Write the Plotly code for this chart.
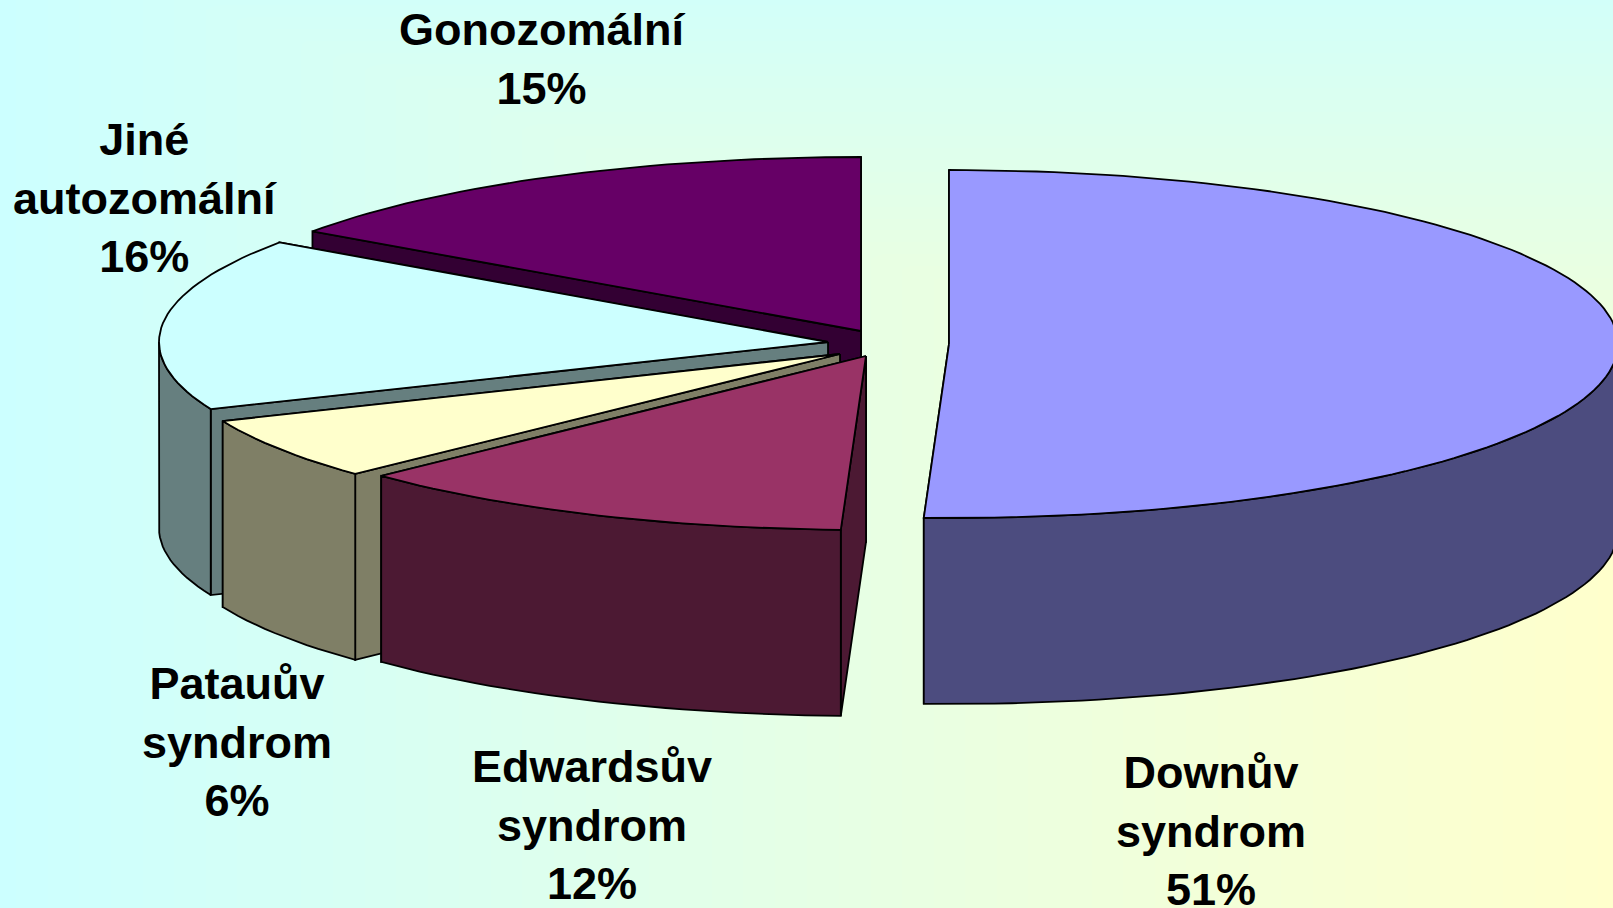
import numpy as np
import plotly.graph_objects as go

W, H = 1613, 908

# Data
categories = ["Downův syndrom", "Edwardsův syndrom", "Patauův syndrom", "Jiné autozomální", "Gonozomální"]
values = [50.6, 12.3, 5.8, 16.0, 15.3]
label_lines = ["Downův<br>syndrom", "Edwardsův<br>syndrom", "Patauův<br>syndrom", "Jiné<br>autozomální", "Gonozomální"]

# Styles / layout
top_colors = ["#9999FF", "#993366", "#FFFFCC", "#CCFFFF", "#660066"]
side_colors = ["#4C4C7F", "#4C1933", "#7F7F66", "#667F7F", "#330033"]
apex_x = [949, 866, 840, 828, 861]
apex_y = [344, 356, 354, 342, 331]
label_x = [1211, 592, 237, 145, 542]
label_y = [831, 825, 742, 198, 59]
RX, RY, DEPTH = 669, 174, 186

fig = go.Figure()

# background gradient, running out of the bottom-right corner
gx = np.linspace(0, W, 162)
gy = np.linspace(0, H, 92)
gz = np.minimum(gx[None, :] / W, 0.12 + 1.5 * gy[:, None] / H)
fig.add_trace(go.Heatmap(x=gx, y=gy, z=gz, zmin=0, zmax=1, zsmooth="best", showscale=False,
                         hoverinfo="skip",
                         colorscale=[[0, "#CCFFFF"], [1, "#FFFFCC"]]))


def rim(cx, cy, a0, a1, dy=0):
    n = max(2, int(abs(a1 - a0) / 1.5) + 1)
    t = np.radians(np.linspace(a0, a1, n))
    return cx + RX * np.sin(t), cy - RY * np.cos(t) + dy


def poly(xs, ys, color):
    xs = list(xs) + [xs[0]]
    ys = list(ys) + [ys[0]]
    fig.add_trace(go.Scatter(x=xs, y=ys, mode="lines", fill="toself", fillcolor=color,
                             line=dict(color="black", width=1.8), hoverinfo="skip", showlegend=False))


edges = np.concatenate([[0], np.cumsum(values)]) / np.sum(values) * 360

# back-to-front painter's order
for i in [4, 3, 2, 1, 0]:
    a0, a1 = edges[i], edges[i + 1]
    cx, cy = apex_x[i], apex_y[i]
    # radial cut walls
    for a in (a1, a0):
        px = cx + RX * np.sin(np.radians(a))
        py = cy - RY * np.cos(np.radians(a))
        poly([cx, px, px, cx], [cy, py, py + DEPTH, cy + DEPTH], side_colors[i])
    # visible outer wall
    lo, hi = max(a0, 90), min(a1, 270)
    if hi > lo:
        x1, y1 = rim(cx, cy, lo, hi)
        x2, y2 = rim(cx, cy, hi, lo, DEPTH)
        poly(np.concatenate([x1, x2]), np.concatenate([y1, y2]), side_colors[i])
    # top face
    xt, yt = rim(cx, cy, a0, a1)
    poly(np.concatenate([[cx], xt]), np.concatenate([[cy], yt]), top_colors[i])

for i in range(len(categories)):
    pct = round(values[i] / sum(values) * 100)
    fig.add_annotation(x=label_x[i], y=label_y[i], text=f"{label_lines[i]}<br>{pct}%", showarrow=False,
                       align="center", xanchor="center", yanchor="middle",
                       font=dict(family="Liberation Sans", size=45, color="black", weight="bold"))

fig.update_xaxes(range=[0, W], visible=False, fixedrange=True)
fig.update_yaxes(range=[H, 0], visible=False, fixedrange=True)
fig.update_layout(width=W, height=H, margin=dict(l=0, r=0, t=0, b=0), showlegend=False,
                  paper_bgcolor="#E6FFE6", plot_bgcolor="#E6FFE6")
fig.write_html("out.html", config={"displayModeBar": False},
               post_script="document.body.style.margin='0';document.body.style.overflow='hidden';")
